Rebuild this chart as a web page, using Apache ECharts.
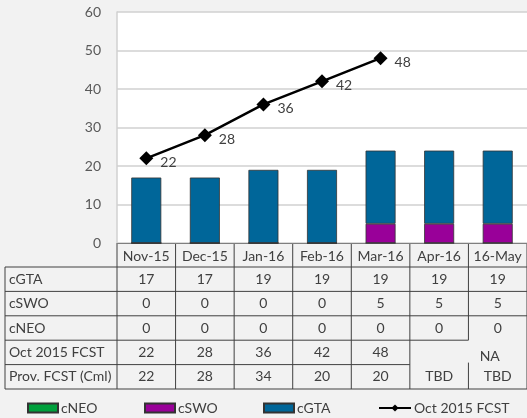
<!DOCTYPE html>
<html>
<head>
<meta charset="utf-8">
<script src="https://cdn.jsdelivr.net/npm/echarts@6/dist/echarts.min.js"></script>
<style>
html,body{margin:0;padding:0;background:#f2f2f2;}
#main{width:527px;height:418px;}
</style>
</head>
<body>
<div id="main"></div>
<script>
const categories = ['Nov-15','Dec-15','Jan-16','Feb-16','Mar-16','Apr-16','16-May'];
const cGTA = [17,17,19,19,19,19,19];
const cSWO = [0,0,0,0,5,5,5];
const cNEO = [0,0,0,0,0,0,0];
const octFcst = [22,28,36,42,48,null,null];
const provFcst = ['22','28','34','20','20','TBD','TBD'];
const rowNames = ['cGTA','cSWO','cNEO','Oct 2015 FCST','Prov. FCST (Cml)'];
const naLabel = 'NA';
const legendNames = ['cNEO','cSWO','cGTA','Oct 2015 FCST'];
const yMin = 0, yMax = 60, yStep = 10;

const FONT = 'Lato';
const TXT = '#404040';

const chart = echarts.init(document.getElementById('main'), null, {renderer:'canvas'});

const legendLeft = [27, 144, 263, 378];
const legends = legendNames.map((nm, i) => ({
  left: legendLeft[i], top: 401, padding: 0, itemWidth: i === 3 ? 32 : 30, itemHeight: 9,
  data: [i === 3 ? {name: nm} : {name: nm, icon: 'rect'}],
  textStyle: {color: TXT, fontSize: 14, fontFamily: FONT, padding: [0,0,0,-2]}
}));

const option = {
  backgroundColor: '#f2f2f2',
  animation: false,
  textStyle: {fontFamily: FONT},
  grid: {left: 117, top: 12, width: 413, height: 231, backgroundColor: '#ffffff', show: true, borderWidth: 0},
  legend: legends,
  xAxis: {
    type: 'category', data: categories,
    axisLine: {show: true, lineStyle: {color: '#7f7f7f', width: 1}},
    axisTick: {show: false},
    axisLabel: {color: TXT, fontSize: 14, fontFamily: FONT, margin: 6, interval: 0},
    splitLine: {show: false}
  },
  yAxis: {
    type: 'value', min: yMin, max: yMax, interval: yStep,
    axisLine: {show: true, lineStyle: {color: '#d0d0d0', width: 1.5}},
    axisTick: {show: false},
    axisLabel: {color: '#595959', fontSize: 14, fontFamily: FONT, margin: 16},
    splitLine: {lineStyle: {color: '#d0d0d0', width: 1.5}}
  },
  series: [
    {name:'cNEO', type:'bar', stack:'s', data:cNEO, barWidth:30, itemStyle:{color:'#00a03c', borderColor:'#333', borderWidth:0.8}},
    {name:'cSWO', type:'bar', stack:'s', data:cSWO, barWidth:30, itemStyle:{color:'#990099', borderColor:'#333', borderWidth:0.8}},
    {name:'cGTA', type:'bar', stack:'s', data:cGTA, barWidth:30, itemStyle:{color:'#006699', borderColor:'#333', borderWidth:0.8}},
    {name:'Oct 2015 FCST', type:'line', data:octFcst, symbol:'diamond', symbolSize:14,
      lineStyle:{color:'#000', width:2.5}, itemStyle:{color:'#000'},
      label:{show:true, position:'right', offset:[2,4], color:TXT, fontSize:14, fontFamily:FONT}}
  ]
};
chart.setOption(option);

function drawTable(){
  const c0 = chart.convertToPixel({xAxisIndex:0}, 0);
  const c1 = chart.convertToPixel({xAxisIndex:0}, 1);
  const bw = c1 - c0;
  const n = categories.length;
  const bounds = [];
  for (let i = 0; i <= n; i++) bounds.push(c0 - bw/2 + i*bw);
  const centers = categories.map((_, i) => chart.convertToPixel({xAxisIndex:0}, i));
  const yTop = chart.convertToPixel({yAxisIndex:0}, yMin);
  const headH = 24, rowH = 24.4;
  const leftX = 5;
  const rowTop = yTop + headH;
  const rowY = k => rowTop + k*rowH;
  const rightX = bounds[n];
  const els = [];
  const line = (x1,y1,x2,y2) => els.push({type:'line', shape:{x1,y1,x2,y2}, style:{stroke:'#404040', lineWidth:1}, silent:true});
  const text = (x,y,t,align) => els.push({type:'text', x, y, style:{text:t, fill:TXT, fontSize:14, fontFamily:FONT, align:align||'center', verticalAlign:'middle'}, silent:true});

  line(leftX, rowY(0), rightX, rowY(0));
  line(leftX, rowY(1), rightX, rowY(1));
  line(leftX, rowY(2), rightX, rowY(2));
  line(leftX, rowY(3), bounds[6], rowY(3));
  line(leftX, rowY(4), bounds[5], rowY(4));
  line(leftX, rowY(5), rightX, rowY(5));
  line(leftX, rowY(0), leftX, rowY(5));
  for (let i = 0; i <= n; i++) {
    if (i === 6) {
      line(bounds[i], yTop, bounds[i], rowY(3));
      line(bounds[i], rowY(4) - 2, bounds[i], rowY(5));
    } else {
      line(bounds[i], yTop, bounds[i], rowY(5));
    }
  }
  rowNames.forEach((nm, k) => text(leftX + 4, rowY(k) + rowH/2, nm, 'left'));
  const rows = [cGTA, cSWO, cNEO, octFcst, provFcst];
  rows.forEach((arr, k) => {
    arr.forEach((v, i) => {
      if (v === null || v === undefined) return;
      text(centers[i], rowY(k) + rowH/2, String(v));
    });
  });
  text(centers[6] - 8, rowY(4) - 8, naLabel);
  chart.setOption({graphic: {elements: els}});
}
drawTable();
</script>
</body>
</html>
